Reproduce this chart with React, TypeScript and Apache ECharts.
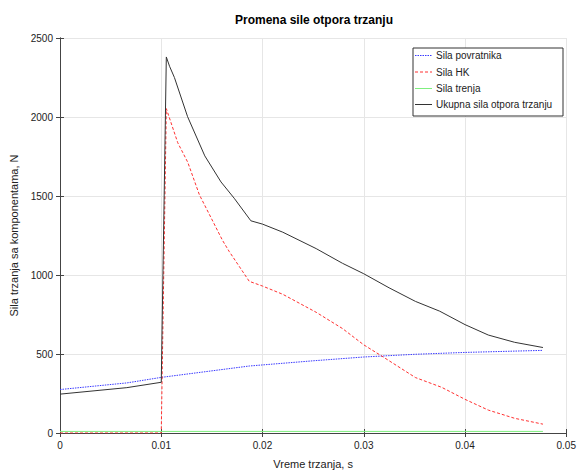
import React, { useEffect, useRef } from "react";
import * as echarts from "echarts";

const xTicks = [0, 0.01, 0.02, 0.03, 0.04, 0.05];
const yTicks = [0, 500, 1000, 1500, 2000, 2500];

const seriesNames = ["Sila povratnika", "Sila HK", "Sila trenja", "Ukupna sila otpora trzanju"];
const seriesColors = ["#3a3aff", "#ff3030", "#7fef7f", "#333333"];

const timePovratnik = [0, 0.0066, 0.01, 0.0187, 0.025, 0.03, 0.035, 0.04, 0.0477];
const silaPovratnik = [275, 317, 352, 424, 457, 481, 498, 510, 523];

const timeHK = [0, 0.01, 0.0105, 0.01163, 0.01262, 0.01377, 0.01492, 0.01606, 0.0167, 0.01869, 0.02, 0.022, 0.0253, 0.0279, 0.03, 0.0318, 0.0351, 0.0377, 0.04, 0.0423, 0.0449, 0.0477];
const silaHK = [0, 0, 2053, 1837, 1713, 1507, 1362, 1218, 1150, 960, 930, 878, 764, 661, 558, 486, 351, 289, 213, 145, 93, 56];

const timeTrenje = [0, 0.0477];
const silaTrenje = [10, 10];

const timeUkupno = [0, 0.0066, 0.01, 0.0105, 0.01082, 0.0113, 0.0126, 0.0143, 0.0159, 0.0172, 0.01885, 0.02, 0.022, 0.0253, 0.0279, 0.03, 0.0325, 0.0351, 0.0375, 0.04, 0.0423, 0.0449, 0.0477];
const silaUkupno = [246, 287, 321, 2380, 2321, 2250, 2002, 1754, 1589, 1486, 1343, 1322, 1271, 1167, 1074, 1008, 919, 833, 771, 686, 620, 574, 541];

const pairs = (t: number[], v: number[]) => t.map((x, i) => [x, v[i]]);

const FONT = "Liberation Sans";
const dashes: (number[] | null)[] = [[1.5, 1], [3, 2], null, null];

export default function App() {
  const ref = useRef<HTMLDivElement>(null);
  useEffect(() => {
    if (!ref.current) return;
    const chart = echarts.init(ref.current, null, { renderer: "svg" });
    const axisColor = "#444";
    const gridLeft = 60;
    const gridTop = 38;
    const gridW = 508;
    const gridH = 403;

    const legendX = 413;
    const legendY = 48;
    const legendRowY = [55.5, 72, 88.5, 104.5];
    const legendGraphics: any[] = [
      {
        type: "rect",
        shape: { x: legendX, y: legendY, width: 150, height: 68 },
        style: { fill: "#fff", stroke: "#333", lineWidth: 1 },
        z: 100,
      },
    ];
    seriesNames.forEach((name, i) => {
      legendGraphics.push({
        type: "line",
        shape: { x1: legendX + 2, y1: legendRowY[i], x2: legendX + 19, y2: legendRowY[i] },
        style: { stroke: seriesColors[i], lineWidth: 1, lineDash: dashes[i] || undefined },
        z: 101,
      });
      legendGraphics.push({
        type: "text",
        x: legendX + 23,
        y: legendRowY[i],
        style: {
          text: name,
          font: `10px "${FONT}"`,
          fill: "#222",
          textAlign: "left",
          textVerticalAlign: "middle",
        },
        z: 101,
      });
    });

    chart.setOption({
      animation: false,
      backgroundColor: "#fff",
      textStyle: { fontFamily: FONT },
      grid: { left: gridLeft, top: gridTop, width: gridW, height: gridH, containLabel: false },
      graphic: [
        {
          type: "text",
          x: gridLeft + gridW / 2,
          y: 20,
          style: {
            text: "Promena sile otpora trzanju",
            font: `bold 12px "${FONT}"`,
            fill: "#000",
            textAlign: "center",
            textVerticalAlign: "middle",
          },
        },
        ...legendGraphics,
      ],
      xAxis: [
        {
          type: "value",
          min: xTicks[0],
          max: xTicks[xTicks.length - 1],
          interval: 0.01,
          name: "Vreme trzanja, s",
          nameLocation: "middle",
          nameGap: 25,
          nameTextStyle: { fontSize: 11, color: "#222", fontFamily: FONT },
          axisLine: { show: true, lineStyle: { color: axisColor, width: 1 } },
          axisTick: { show: true, inside: true, length: 4, lineStyle: { color: axisColor } },
          axisLabel: {
            fontSize: 10,
            color: "#222",
            margin: 7,
            formatter: (v: number) => (v === 0 ? "0" : String(Number(v.toFixed(2)))),
          },
          splitLine: { show: true, lineStyle: { color: "#e6e6e6", width: 1 } },
        },
        {
          type: "value",
          position: "top",
          min: xTicks[0],
          max: xTicks[xTicks.length - 1],
          interval: 0.01,
          axisLine: { show: true, lineStyle: { color: axisColor, width: 1 } },
          axisTick: { show: true, inside: true, length: 4, lineStyle: { color: axisColor } },
          axisLabel: { show: false },
          splitLine: { show: false },
        },
      ],
      yAxis: [
        {
          type: "value",
          min: yTicks[0],
          max: yTicks[yTicks.length - 1],
          interval: 500,
          name: "Sila trzanja sa komponentama, N",
          nameLocation: "middle",
          nameGap: 40,
          nameRotate: 90,
          nameTextStyle: { fontSize: 11, color: "#222", fontFamily: FONT },
          axisLine: { show: true, lineStyle: { color: axisColor, width: 1 } },
          axisTick: { show: true, inside: true, length: 4, lineStyle: { color: axisColor } },
          axisLabel: { fontSize: 10, color: "#222", margin: 7, formatter: (v: number) => String(v) },
          splitLine: { show: true, lineStyle: { color: "#e6e6e6", width: 1 } },
        },
        {
          type: "value",
          position: "right",
          min: yTicks[0],
          max: yTicks[yTicks.length - 1],
          interval: 500,
          axisLine: { show: true, lineStyle: { color: axisColor, width: 1 } },
          axisTick: { show: true, inside: true, length: 4, lineStyle: { color: axisColor } },
          axisLabel: { show: false },
          splitLine: { show: false },
        },
      ],
      series: [
        {
          name: seriesNames[0],
          type: "line",
          symbol: "none",
          data: pairs(timePovratnik, silaPovratnik),
          lineStyle: { color: seriesColors[0], width: 1, type: dashes[0] },
        },
        {
          name: seriesNames[1],
          type: "line",
          symbol: "none",
          data: pairs(timeHK, silaHK),
          lineStyle: { color: seriesColors[1], width: 1, type: dashes[1] },
        },
        {
          name: seriesNames[2],
          type: "line",
          symbol: "none",
          data: pairs(timeTrenje, silaTrenje),
          lineStyle: { color: seriesColors[2], width: 1 },
        },
        {
          name: seriesNames[3],
          type: "line",
          symbol: "none",
          data: pairs(timeUkupno, silaUkupno),
          lineStyle: { color: seriesColors[3], width: 1 },
        },
      ],
    });
    return () => chart.dispose();
  }, []);
  return <div ref={ref} style={{ width: 579, height: 474, position: "absolute", left: 0, top: 0 }} />;
}
